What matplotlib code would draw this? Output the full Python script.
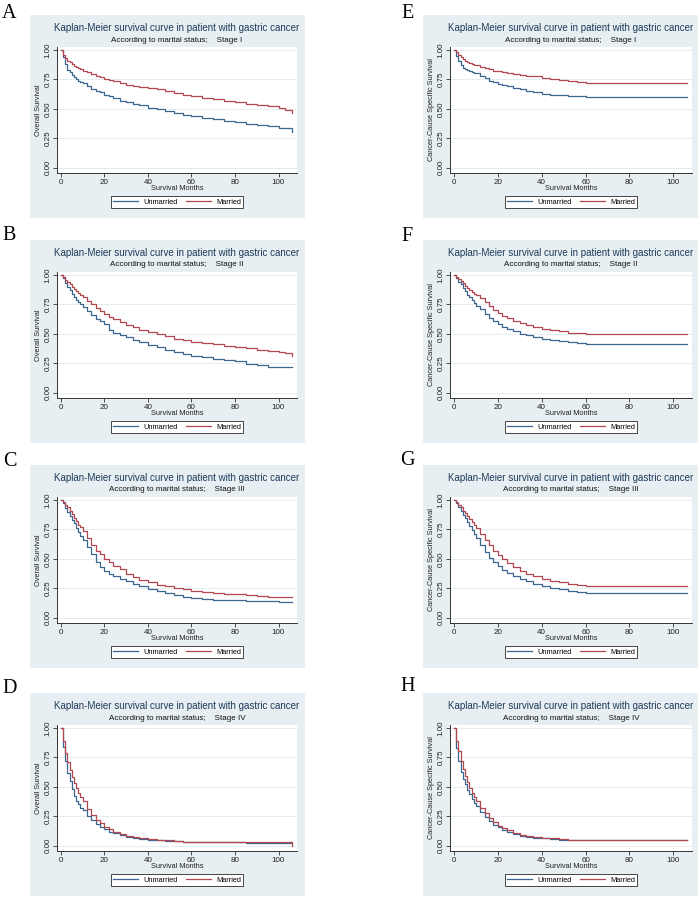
import matplotlib
matplotlib.use("Agg")
import matplotlib.pyplot as plt
from matplotlib.patches import Rectangle

plt.rcParams['font.family'] = ['Liberation Sans', 'DejaVu Sans']

# ---------------- data ----------------
months = [0, 1, 2, 3, 4, 5, 6, 7, 8, 9, 10, 12, 14, 16, 18, 20, 22, 24, 27, 30, 33, 36,
          40, 44, 48, 52, 56, 60, 65, 70, 75, 80, 85, 90, 95, 100, 103, 106]

# Overall survival (A-D)
os1_unmarried = [1.0, 0.94, 0.88, 0.83, 0.81, 0.79, 0.77, 0.755, 0.74, 0.73, 0.72, 0.69, 0.67, 0.655, 0.64, 0.62,
                 0.605, 0.59, 0.57, 0.555, 0.54, 0.53, 0.51, 0.50, 0.48, 0.465, 0.45, 0.44, 0.425, 0.41, 0.40,
                 0.39, 0.375, 0.36, 0.35, 0.34, 0.335, 0.30]
os1_married = [1.0, 0.96, 0.93, 0.91, 0.895, 0.88, 0.865, 0.855, 0.845, 0.835, 0.825, 0.81, 0.795, 0.78, 0.77,
               0.755, 0.745, 0.735, 0.72, 0.705, 0.695, 0.685, 0.675, 0.665, 0.65, 0.635, 0.62, 0.605, 0.595,
               0.58, 0.57, 0.555, 0.545, 0.53, 0.52, 0.505, 0.49, 0.465]
os2_unmarried = [1.0, 0.97, 0.93, 0.90, 0.87, 0.84, 0.81, 0.79, 0.77, 0.75, 0.73, 0.69, 0.66, 0.63, 0.61, 0.58,
                 0.53, 0.51, 0.49, 0.47, 0.45, 0.43, 0.405, 0.385, 0.365, 0.345, 0.325, 0.31, 0.30, 0.29, 0.275,
                 0.265, 0.245, 0.235, 0.22, 0.22, 0.22, 0.22]
os2_married = [1.0, 0.98, 0.96, 0.94, 0.92, 0.90, 0.88, 0.86, 0.845, 0.83, 0.815, 0.78, 0.75, 0.72, 0.69, 0.665,
               0.645, 0.625, 0.60, 0.575, 0.555, 0.535, 0.515, 0.495, 0.48, 0.46, 0.445, 0.43, 0.42, 0.41, 0.395,
               0.385, 0.38, 0.365, 0.355, 0.345, 0.34, 0.315]
os3_unmarried = [1.0, 0.97, 0.93, 0.90, 0.86, 0.83, 0.80, 0.76, 0.73, 0.69, 0.66, 0.60, 0.54, 0.47, 0.43, 0.40,
                 0.37, 0.35, 0.33, 0.31, 0.29, 0.27, 0.245, 0.23, 0.21, 0.195, 0.18, 0.17, 0.16, 0.15, 0.15,
                 0.15, 0.145, 0.14, 0.14, 0.13, 0.13, 0.13]
os3_married = [1.0, 0.98, 0.96, 0.94, 0.91, 0.88, 0.85, 0.82, 0.79, 0.77, 0.74, 0.68, 0.62, 0.57, 0.54, 0.50,
               0.47, 0.44, 0.41, 0.37, 0.345, 0.32, 0.30, 0.28, 0.265, 0.25, 0.24, 0.23, 0.22, 0.21, 0.205,
               0.20, 0.19, 0.185, 0.18, 0.175, 0.175, 0.175]
os4_unmarried = [1.0, 0.84, 0.72, 0.62, 0.55, 0.48, 0.42, 0.38, 0.35, 0.32, 0.30, 0.255, 0.215, 0.185, 0.16,
                 0.14, 0.12, 0.105, 0.09, 0.075, 0.065, 0.058, 0.052, 0.046, 0.04, 0.036, 0.033, 0.031, 0.03,
                 0.03, 0.029, 0.028, 0.026, 0.025, 0.025, 0.025, 0.025, 0.025]
os4_married = [1.0, 0.89, 0.79, 0.71, 0.64, 0.58, 0.53, 0.49, 0.45, 0.41, 0.38, 0.31, 0.26, 0.22, 0.19, 0.16,
               0.14, 0.12, 0.10, 0.085, 0.075, 0.065, 0.058, 0.05, 0.045, 0.04, 0.035, 0.033, 0.031, 0.03, 0.03,
               0.03, 0.03, 0.03, 0.03, 0.03, 0.03, 0.0]

# Cancer-cause specific survival (E-H)
css1_unmarried = [1.0, 0.95, 0.91, 0.87, 0.85, 0.84, 0.83, 0.82, 0.81, 0.805, 0.80, 0.78, 0.76, 0.74, 0.725,
                  0.71, 0.70, 0.69, 0.68, 0.67, 0.655, 0.64, 0.63, 0.62, 0.615, 0.61, 0.605, 0.60, 0.597, 0.597,
                  0.597, 0.597, 0.597, 0.597, 0.597, 0.597, 0.597, 0.597]
css1_married = [1.0, 0.98, 0.96, 0.94, 0.925, 0.91, 0.90, 0.89, 0.88, 0.875, 0.87, 0.855, 0.845, 0.835, 0.825,
                0.82, 0.81, 0.80, 0.795, 0.79, 0.78, 0.775, 0.765, 0.755, 0.745, 0.735, 0.73, 0.72, 0.72, 0.72,
                0.72, 0.72, 0.72, 0.72, 0.72, 0.72, 0.72, 0.72]
css2_unmarried = [1.0, 0.97, 0.94, 0.92, 0.89, 0.86, 0.83, 0.81, 0.79, 0.76, 0.74, 0.71, 0.67, 0.635, 0.61,
                  0.58, 0.56, 0.54, 0.52, 0.50, 0.49, 0.475, 0.46, 0.45, 0.44, 0.43, 0.42, 0.41, 0.41, 0.41,
                  0.41, 0.41, 0.41, 0.41, 0.41, 0.41, 0.41, 0.41]
css2_married = [1.0, 0.985, 0.965, 0.95, 0.93, 0.91, 0.89, 0.87, 0.855, 0.84, 0.83, 0.80, 0.77, 0.74, 0.705,
                0.68, 0.655, 0.635, 0.61, 0.59, 0.575, 0.56, 0.545, 0.53, 0.52, 0.51, 0.505, 0.50, 0.50, 0.50,
                0.50, 0.50, 0.50, 0.50, 0.50, 0.50, 0.50, 0.50]
css3_unmarried = [1.0, 0.97, 0.94, 0.91, 0.875, 0.845, 0.81, 0.78, 0.745, 0.715, 0.68, 0.62, 0.56, 0.51, 0.47,
                  0.435, 0.405, 0.38, 0.355, 0.33, 0.31, 0.29, 0.27, 0.255, 0.24, 0.23, 0.22, 0.21, 0.21, 0.21,
                  0.21, 0.21, 0.21, 0.21, 0.21, 0.21, 0.21, 0.21]
css3_married = [1.0, 0.985, 0.96, 0.94, 0.91, 0.885, 0.86, 0.835, 0.81, 0.785, 0.76, 0.71, 0.66, 0.615, 0.57,
                0.53, 0.495, 0.465, 0.43, 0.40, 0.375, 0.355, 0.33, 0.315, 0.30, 0.29, 0.28, 0.27, 0.27, 0.27,
                0.27, 0.27, 0.27, 0.27, 0.27, 0.27, 0.27, 0.27]
css4_unmarried = [1.0, 0.83, 0.72, 0.63, 0.57, 0.52, 0.47, 0.435, 0.40, 0.365, 0.335, 0.285, 0.245, 0.21, 0.18,
                  0.155, 0.135, 0.12, 0.10, 0.085, 0.075, 0.068, 0.063, 0.058, 0.052, 0.048, 0.045, 0.045,
                  0.045, 0.045, 0.045, 0.045, 0.045, 0.045, 0.045, 0.045, 0.045, 0.045]
css4_married = [1.0, 0.89, 0.80, 0.72, 0.65, 0.59, 0.54, 0.49, 0.45, 0.415, 0.38, 0.32, 0.275, 0.235, 0.20,
                0.17, 0.15, 0.13, 0.11, 0.095, 0.083, 0.075, 0.068, 0.062, 0.056, 0.05, 0.047, 0.045, 0.045,
                0.045, 0.045, 0.045, 0.045, 0.045, 0.045, 0.045, 0.045, 0.045]

panel_letters = ["A", "B", "C", "D", "E", "F", "G", "H"]
stages = ["Stage I", "Stage II", "Stage III", "Stage IV"]
series_names = ["Unmarried", "Married"]
title_text = "Kaplan-Meier survival curve in patient with gastric cancer"
subtitle_prefix = "According to marital status;    "
ylabels = ["Overall Survival", "Cancer-Cause Specific Survival"]
xlabel_text = "Survival Months"
x_ticks = [0, 20, 40, 60, 80, 100]
y_ticks = [0.0, 0.25, 0.5, 0.75, 1.0]
y_tick_labels = ["0.00", "0.25", "0.50", "0.75", "1.00"]

os_data = [(os1_unmarried, os1_married), (os2_unmarried, os2_married),
           (os3_unmarried, os3_married), (os4_unmarried, os4_married)]
css_data = [(css1_unmarried, css1_married), (css2_unmarried, css2_married),
            (css3_unmarried, css3_married), (css4_unmarried, css4_married)]

# ---------------- style / layout ----------------
W, H = 700, 898
fig = plt.figure(figsize=(W / 100, H / 100), dpi=100)
fig.patch.set_facecolor("white")

BG = "#e7eff2"
BLUE = "#3b6690"
RED = "#b4474f"
TITLE_C = "#1f3a5a"

bg_x = [(30, 305), (423, 698)]
plot_x = [(57, 297), (450, 692)]
row_top = [15, 240, 465, 693]
letter_pos = [[(2, 4), (2, 226), (3, 452), (2, 679)],
              [(401, 4), (401, 227), (400, 451), (400, 677)]]


def fx(x):
    return x / W


def fy(y):
    return 1 - y / H


for col in range(2):
    data = os_data if col == 0 else css_data
    for row in range(4):
        top = row_top[row]
        bottom = min(top + 203, H)
        bx0, bx1 = bg_x[col]
        fig.patches.append(Rectangle((fx(bx0), fy(bottom)), fx(bx1 - bx0), (bottom - top) / H,
                                     transform=fig.transFigure, facecolor=BG, edgecolor="none",
                                     zorder=-5))
        px0, px1 = plot_x[col]
        ptop, pbot = top + 32, top + 158
        ax = fig.add_axes([fx(px0), fy(pbot), fx(px1 - px0), (pbot - ptop) / H])
        ax.set_facecolor("white")
        un, ma = data[row]
        ax.step(months, un, where="post", color=BLUE, lw=0.9, label=series_names[0], zorder=3)
        ax.step(months, ma, where="post", color=RED, lw=0.9, label=series_names[1], zorder=3)
        ax.set_xlim(-1.8, 108.5)
        ax.set_ylim(-0.045, 1.025)
        ax.set_xticks(x_ticks)
        ax.set_yticks(y_ticks)
        ax.set_yticklabels(y_tick_labels, rotation=90, va="center")
        ax.tick_params(axis="both", labelsize=5.8, length=3, width=0.6, color="#333333",
                       labelcolor="#222222", pad=1.0)
        ax.grid(axis="y", color="#e2eaed", lw=0.6)
        ax.set_axisbelow(True)
        for s in ["top", "right"]:
            ax.spines[s].set_visible(False)
        for s in ["left", "bottom"]:
            ax.spines[s].set_linewidth(0.7)
            ax.spines[s].set_color("#333333")
        ax.set_xlabel(xlabel_text, fontsize=5.3, va="center", color="#222222")
        ax.xaxis.set_label_coords(0.5, -15.5 / 126)
        ax.set_ylabel(ylabels[col], fontsize=5.3, va="center", color="#222222")
        ylab_x = 38 if col == 0 else 431
        ax.yaxis.set_label_coords((ylab_x - px0) / (px1 - px0), 0.5)

        cx = (px0 + px1) / 2
        fig.text(fx(cx), fy(top + 13), title_text, ha="center", va="center",
                 fontsize=7.0, color=TITLE_C)
        fig.text(fx(cx), fy(top + 25), subtitle_prefix + stages[row], ha="center", va="center",
                 fontsize=5.8, color="#111111")

        leg = ax.legend(loc="center", bbox_to_anchor=(fx(cx), fy(top + 187)),
                        bbox_transform=fig.transFigure, ncol=2, fontsize=5.3, frameon=True,
                        fancybox=False, edgecolor="#444444", facecolor="white", framealpha=1,
                        handlelength=3.4, handletextpad=0.7, columnspacing=1.1,
                        borderpad=0.35, borderaxespad=0)
        leg.get_frame().set_linewidth(0.7)

        lx, ly = letter_pos[col][row]
        fig.text(fx(lx), fy(ly), panel_letters[col * 4 + row], ha="left", va="top",
                 fontsize=14.5, family=["Liberation Serif", "DejaVu Serif"], color="black")

fig.savefig("out.png", dpi=100)
